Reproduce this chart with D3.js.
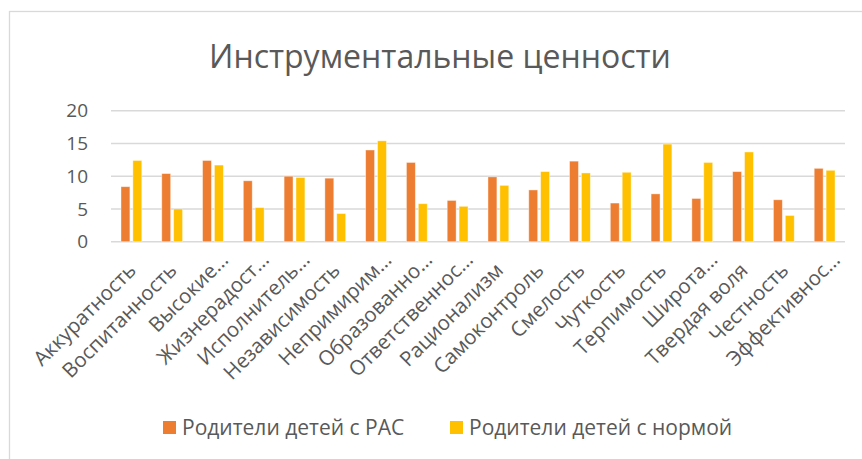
<!DOCTYPE html>
<html lang="ru">
<head>
    <meta charset="UTF-8">
    <title>Инструментальные ценности</title>
    <script src="https://cdn.jsdelivr.net/npm/d3@7"></script>
    <style>
        body { margin: 0; background: #fff; }
        text { font-family: "Open Sans", "Noto Sans", sans-serif; fill: #595959; }
    </style>
</head>
<body>
    <div id="vis"></div>
    <script>

        var categories = ["Аккуратность", "Воспитанность", "Высокие…", "Жизнерадост…",
            "Исполнитель…", "Независимость", "Непримирим…", "Образованно…", "Ответственнос…",
            "Рационализм", "Самоконтроль", "Смелость", "Чуткость", "Терпимость",
            "Широта…", "Твердая воля", "Честность", "Эффективнос…"];

        var seriesNames = ["Родители детей с РАС", "Родители детей с нормой"];
        var seriesColors = ["#ED7D31", "#FFC000"];

        var valuesRAS = [8.4, 10.4, 12.4, 9.3, 10.0, 9.7, 14.0, 12.1, 6.3,
            9.9, 7.9, 12.3, 5.9, 7.3, 6.6, 10.7, 6.4, 11.2];
        var valuesNorm = [12.4, 5.0, 11.7, 5.2, 9.8, 4.3, 15.4, 5.8, 5.4,
            8.6, 10.7, 10.5, 10.6, 14.9, 12.1, 13.7, 4.0, 10.9];

        var yTicks = [0, 5, 10, 15, 20];

        var width = 862;
        var height = 459;

        var margin = {
            top: 110.7,
            left: 111,
            right: 17,
            bottom: 217.3
        };

        var svg = d3.select("#vis")
            .append("svg")
            .attr("width", width)
            .attr("height", height);

        svg.append("rect")
            .attr("width", width)
            .attr("height", height)
            .attr("fill", "#fff");

        // chart area border
        svg.append("rect")
            .attr("x", 9.5)
            .attr("y", 11.5)
            .attr("width", 900)
            .attr("height", 500)
            .attr("fill", "none")
            .attr("stroke", "#d9d9d9")
            .attr("stroke-width", 1.3);

        svg.append("text")
            .attr("x", 440)
            .attr("y", 68)
            .attr("text-anchor", "middle")
            .attr("font-size", "32px")
            .text("Инструментальные ценности");

        var y_scale = d3.scaleLinear()
            .domain([0, 20])
            .range([height - margin.bottom, margin.top]);

        var x_scale = d3.scaleBand()
            .domain(categories)
            .range([margin.left, width - margin.right]);

        var bw = x_scale.bandwidth();
        var x_inner = d3.scaleBand()
            .domain(seriesNames)
            .range([bw * 0.245, bw * 0.755])
            .paddingInner(0.25);

        // gridlines
        svg.append("g")
            .selectAll("line")
            .data(yTicks)
            .enter()
            .append("line")
            .attr("x1", margin.left)
            .attr("x2", width - margin.right)
            .attr("y1", function(d) { return y_scale(d); })
            .attr("y2", function(d) { return y_scale(d); })
            .attr("stroke", "#d9d9d9")
            .attr("stroke-width", 1.5);

        var y_axis = d3.axisLeft(y_scale)
            .tickValues(yTicks)
            .tickSize(0)
            .tickPadding(0);

        var yg = svg.append("g")
            .attr("transform", "translate(88,0)")
            .call(y_axis);
        yg.select(".domain").remove();
        yg.selectAll("text")
            .attr("font-size", "19px")
            .attr("font-family", "'Open Sans', sans-serif")
            .attr("fill", "#595959");

        var allSeries = [valuesRAS, valuesNorm];

        allSeries.forEach(function(vals, s) {
            svg.append("g")
                .selectAll("rect")
                .data(vals)
                .enter()
                .append("rect")
                .attr("x", function(d, i) { return x_scale(categories[i]) + x_inner(seriesNames[s]); })
                .attr("y", function(d) { return y_scale(d); })
                .attr("width", x_inner.bandwidth())
                .attr("height", function(d) { return y_scale(0) - y_scale(d); })
                .attr("fill", seriesColors[s])
                .attr("stroke", "#fff")
                .attr("stroke-opacity", 0.5)
                .attr("stroke-width", 0.8);
        });

        // category labels, rotated; truncated ones sit a bit further out
        var x_axis = d3.axisBottom(x_scale)
            .tickSize(0)
            .tickPadding(0);

        var xg = svg.append("g")
            .attr("transform", "translate(0," + y_scale(0) + ")")
            .call(x_axis);
        xg.select(".domain").remove();
        xg.selectAll("text")
            .attr("font-size", "20.5px")
            .attr("font-family", "'Open Sans', sans-serif")
            .attr("fill", "#595959")
            .attr("text-anchor", "end")
            .attr("dy", null)
            .attr("y", 0)
            .attr("dx", function(d) { return d.slice(-1) === "…" ? 15 : 0; })
            .attr("transform", "translate(6,30) rotate(-45)");

        // legend
        var legendX = [163, 450];
        var legend = svg.append("g")
            .selectAll("g")
            .data(seriesNames)
            .enter()
            .append("g")
            .attr("transform", function(d, i) { return "translate(" + legendX[i] + ",421)"; });

        legend.append("rect")
            .attr("width", 13)
            .attr("height", 13)
            .attr("fill", function(d, i) { return seriesColors[i]; });

        legend.append("text")
            .attr("x", 19)
            .attr("y", 14)
            .attr("font-size", "21px")
            .text(function(d) { return d; });

    </script>
</body>
</html>
